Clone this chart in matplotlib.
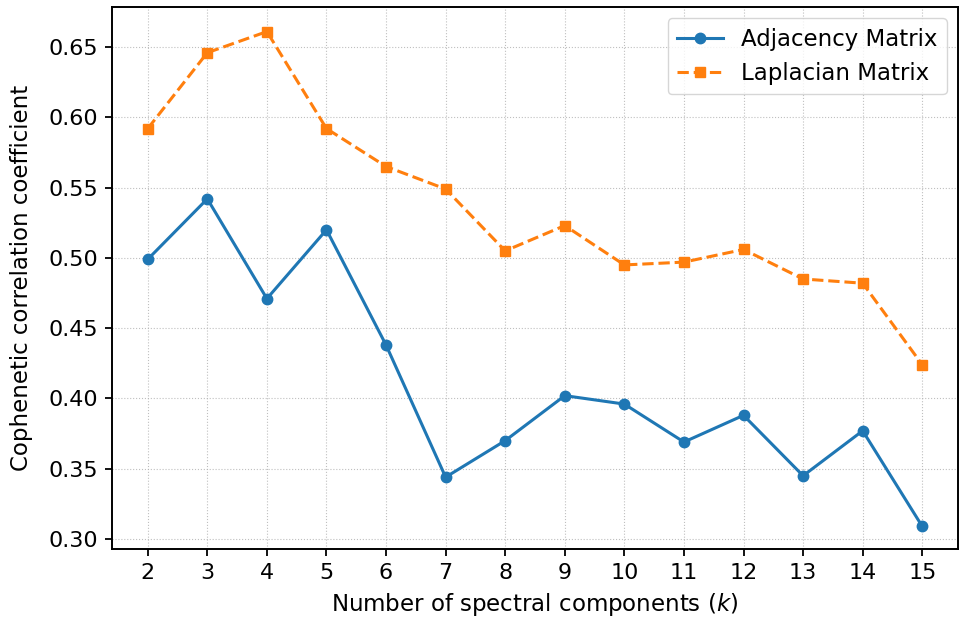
import matplotlib
matplotlib.use("Agg")
import matplotlib.pyplot as plt

k_values = list(range(2, 16))
adjacency = [0.499, 0.542, 0.471, 0.520, 0.438, 0.344, 0.370, 0.402, 0.396, 0.369, 0.388, 0.345, 0.377, 0.309]
laplacian = [0.592, 0.646, 0.661, 0.592, 0.565, 0.549, 0.505, 0.523, 0.495, 0.497, 0.506, 0.485, 0.482, 0.424]
y_ticks = [0.30, 0.35, 0.40, 0.45, 0.50, 0.55, 0.60, 0.65]

fig = plt.figure(figsize=(9.59, 6.25), dpi=100)
ax = fig.add_axes([112/959, 1-549/625, (958-112)/959, (549-7)/625])
ax.plot(k_values, adjacency, '-o', color='#1f77b4', lw=2.2, ms=7.5, label='Adjacency Matrix')
ax.plot(k_values, laplacian, '--s', color='#ff7f0e', lw=2.2, ms=7.5, label='Laplacian Matrix')
ax.set_xticks(k_values)
ax.set_yticks(y_ticks)
ax.set_yticklabels([f"{v:.2f}" for v in y_ticks])
ax.set_xlim(1.4, 15.6)
ax.set_ylim(0.2929, 0.6785)
ax.tick_params(labelsize=16, width=1.3, length=5, pad=5)
for s in ax.spines.values():
    s.set_linewidth(1.4)
ax.set_xlabel('Number of spectral components ($k$)', fontsize=16.5, labelpad=6)
ax.set_ylabel('Cophenetic correlation coefficient', fontsize=16.5, labelpad=11)
ax.grid(True, linestyle=':', color='#b0b0b0', alpha=0.8)
ax.legend(fontsize=16.5, loc='upper right')
fig.savefig('out.png', dpi=100)
